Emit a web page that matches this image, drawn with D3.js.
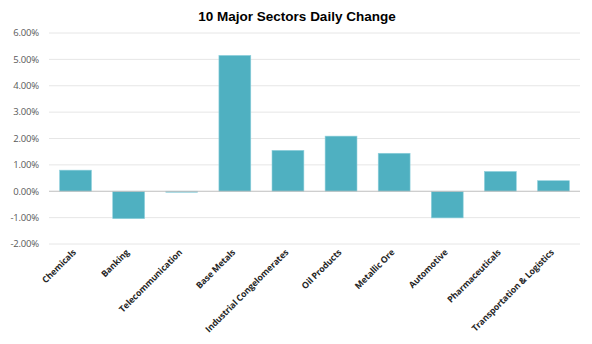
<!DOCTYPE html>
<html>
<head>
<meta charset="utf-8">
<script src="https://cdn.jsdelivr.net/npm/d3@7"></script>
<style>
  body { margin: 0; background: #fff; }
  svg { display: block; }
</style>
</head>
<body>
<svg id="chart"></svg>
<script>
const width = 592;
const height = 344;

// Sector names and daily change (%)
const sectors = ["Chemicals", "Banking", "Telecommunication", "Base Metals", "Industrial Congelomerates",
    "Oil Products", "Metallic Ore", "Automotive", "Pharmaceuticals", "Transportation & Logistics"];
const changes = [0.80, -1.04, -0.03, 5.15, 1.55, 2.09, 1.44, -1.01, 0.75, 0.40];
const yTicks = [-2, -1, 0, 1, 2, 3, 4, 5, 6];

const margin = { top: 33, right: 12, bottom: 100, left: 49 };

const svg = d3.select("#chart")
    .attr("width", width)
    .attr("height", height);

// Title
svg.append("text")
    .attr("x", width / 2 + 1)
    .attr("y", 21)
    .attr("text-anchor", "middle")
    .attr("font-family", "Liberation Sans, Arial, sans-serif")
    .attr("font-weight", "bold")
    .attr("font-size", 13.5)
    .attr("fill", "#000")
    .text("10 Major Sectors Daily Change");

const x = d3.scaleBand()
    .domain(sectors)
    .range([margin.left, width - margin.right])
    .paddingInner(0.4)
    .paddingOuter(0.2);

const y = d3.scaleLinear()
    .domain([-2, 6])
    .range([height - margin.bottom, margin.top]);

// Gridlines
svg.append("g")
    .selectAll("line")
    .data(yTicks.filter(d => d !== 0))
    .join("line")
    .attr("x1", margin.left)
    .attr("x2", width - margin.right)
    .attr("y1", d => y(d))
    .attr("y2", d => y(d))
    .attr("stroke", "#e6e6e6")
    .attr("stroke-width", 1);

// Y axis labels
svg.append("g")
    .selectAll("text")
    .data(yTicks)
    .join("text")
    .attr("x", 39)
    .attr("y", d => y(d))
    .attr("dy", "0.35em")
    .attr("text-anchor", "end")
    .attr("font-family", "Open Sans, sans-serif")
    .attr("font-size", 9.5)
    .attr("letter-spacing", -0.2)
    .attr("fill", "#595959")
    .text(d => d.toFixed(2) + "%");

// Bars
svg.append("g")
    .selectAll("rect")
    .data(sectors.map((s, i) => ({ s, v: changes[i] })))
    .join("rect")
    .attr("x", d => x(d.s))
    .attr("width", x.bandwidth())
    .attr("y", d => y(Math.max(0, d.v)))
    .attr("height", d => Math.max(1, Math.abs(y(d.v) - y(0))))
    .attr("fill", "#4fb0c1")
    .attr("stroke", "#8fd0dc")
    .attr("stroke-width", 0.6);

// Zero line
svg.append("line")
    .attr("x1", margin.left)
    .attr("x2", width - margin.right)
    .attr("y1", y(0))
    .attr("y2", y(0))
    .attr("stroke", "#bfbfbf")
    .attr("stroke-width", 1);

// Category labels, rotated
svg.append("g")
    .selectAll("text")
    .data(sectors)
    .join("text")
    .attr("transform", d => `translate(${x(d) + x.bandwidth() / 2 + 1},${height - margin.bottom + 9}) rotate(-45)`)
    .attr("text-anchor", "end")
    .attr("font-family", "Open Sans, sans-serif")
    .attr("font-weight", "bold")
    .attr("font-size", 8.8)
    .attr("letter-spacing", -0.15)
    .attr("fill", "#262626")
    .text(d => d);
</script>
</body>
</html>
